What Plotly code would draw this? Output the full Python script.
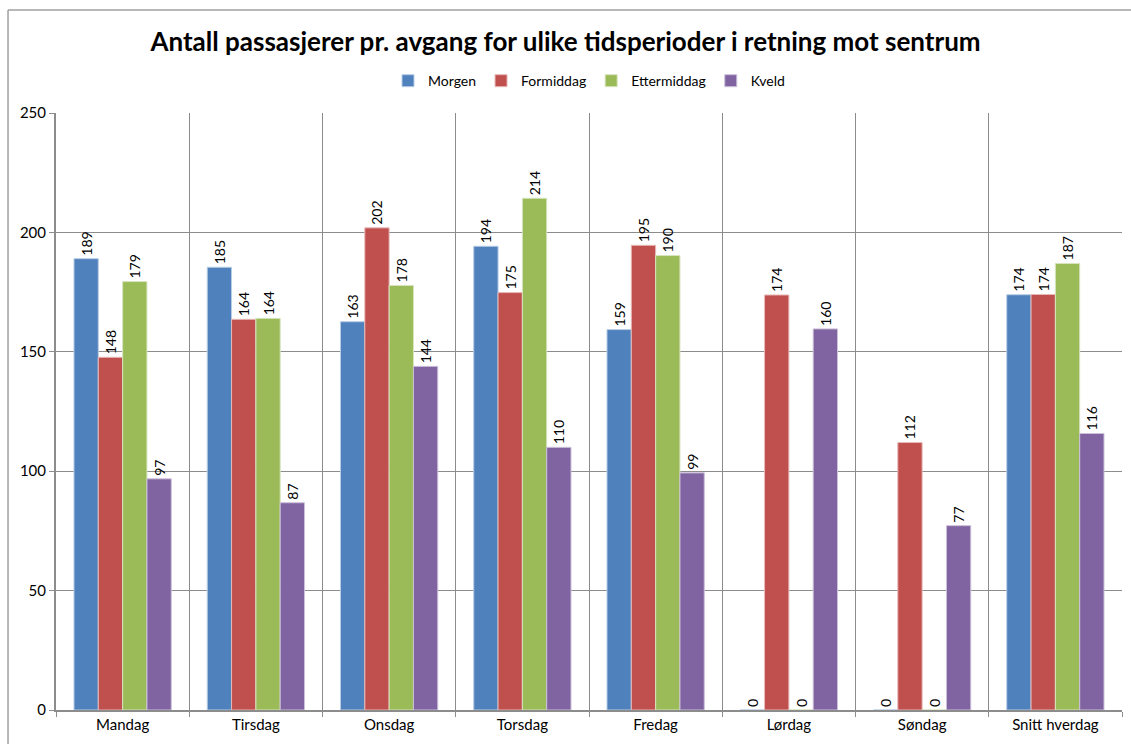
import plotly.graph_objects as go

dager = ["Mandag", "Tirsdag", "Onsdag", "Torsdag", "Fredag", "Lørdag", "Søndag", "Snitt hverdag"]

morgen = [189.0, 185.4, 162.6, 194.2, 159.3, 0, 0, 173.9]
formiddag = [147.7, 163.6, 201.9, 174.8, 194.6, 173.8, 112.0, 174.0]
ettermiddag = [179.4, 164.0, 177.8, 214.3, 190.3, 0, 0, 187.0]
kveld = [96.8, 86.8, 143.9, 110.0, 99.3, 159.6, 77.2, 115.8]

serier = [
    ("Morgen", morgen, "#4F81BD", "#B9CDE5"),
    ("Formiddag", formiddag, "#C0504D", "#E6B9B8"),
    ("Ettermiddag", ettermiddag, "#9BBB59", "#D7E4BD"),
    ("Kveld", kveld, "#8064A2", "#CCC1DA"),
]

fig = go.Figure()
for navn, verdier, farge, kant in serier:
    fig.add_trace(go.Bar(
        name=navn, x=dager, y=verdier,
        marker=dict(color=farge, line=dict(color=kant, width=1)),
        text=[f"{v:.0f}" for v in verdier],
        textposition="outside", textangle=-90, constraintext="none",
        textfont=dict(family="Lato", size=14, color="#000000"),
        cliponaxis=False,
    ))

grid = "#8C8C8C"
fig.update_layout(
    title=dict(text="<b>Antall passasjerer pr. avgang for ulike tidsperioder i retning mot sentrum</b>",
               x=0.5, xanchor="center", yref="container", y=0.944, yanchor="middle",
               font=dict(family="Lato", size=26, color="#000000")),
    legend=dict(orientation="h", x=0.5, xanchor="center", yref="container", y=0.891, yanchor="middle",
                font=dict(family="Lato", size=14, color="#000000"),
                itemwidth=30, tracegroupgap=0),
    barmode="group", bargap=0.27, bargroupgap=0,
    width=1131, height=744,
    margin=dict(l=56, r=9, t=113, b=34, autoexpand=False),
    paper_bgcolor="white", plot_bgcolor="white",
    font=dict(family="Lato", size=14, color="#000000"),
    xaxis=dict(tickson="boundaries", ticks="outside", ticklen=5, tickcolor=grid,
               showgrid=True, gridcolor=grid, gridwidth=1, automargin=False,
               showline=True, linecolor=grid, linewidth=2,
               tickfont=dict(family="Lato", size=15)),
    yaxis=dict(range=[0, 250], dtick=50, ticks="outside", ticklen=5, tickcolor=grid,
               showgrid=True, gridcolor=grid, gridwidth=1, automargin=False,
               showline=True, linecolor=grid, linewidth=2, zeroline=False,
               tickfont=dict(family="Lato", size=15)),
    shapes=[
        dict(type="line", xref="paper", yref="paper", x0=-0.045, x1=1.2, y0=1.1725, y1=1.1725,
             line=dict(color="#A0A0A0", width=1.5)),
        dict(type="line", xref="paper", yref="paper", x0=-0.045, x1=-0.045, y0=1.1725, y1=-0.2,
             line=dict(color="#A0A0A0", width=1.5)),
    ],
)

# fjern standard body-marg slik at figuren starter i hjørnet
fig.write_html("out.html", config={"displayModeBar": False},
               post_script="document.body.style.margin='0';document.body.style.overflow='hidden';")
